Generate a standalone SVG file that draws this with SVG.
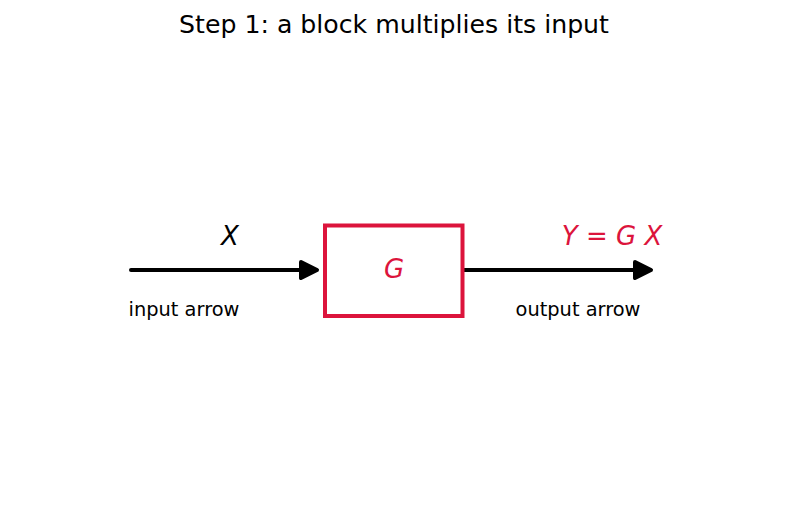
<svg xmlns="http://www.w3.org/2000/svg" width="787" height="511" viewBox="0 0 787 511">
<style>
.t{font-family:"DejaVu Sans",sans-serif;fill:#000}
.lbl{font-size:19.4px;text-anchor:middle}
.math{font-size:26px;font-style:italic}
.red{fill:#DC143C}
.ln{stroke:#000;stroke-width:4;stroke-linecap:round;fill:none}
.hd{stroke:#000;stroke-width:4;stroke-linejoin:round;fill:#000}
</style>
<rect width="787" height="511" fill="#fff"/>
<text class="t" x="394" y="33" font-size="25.2" text-anchor="middle">Step 1: a block multiplies its input</text>
<g id="connectors">
<g id="input-arrow">
<line class="ln" x1="131" y1="270" x2="303" y2="270"/>
<polygon class="hd" points="301,262 317,270 301,278"/>
</g>
<g id="output-arrow">
<line class="ln" x1="464" y1="270" x2="637" y2="270"/>
<polygon class="hd" points="635,262 651,270 635,278"/>
</g>
</g>
<g id="block">
<rect x="325" y="225.5" width="137.5" height="90.5" fill="#fff" stroke="#DC143C" stroke-width="4"/>
<text class="t math red" x="394" y="278" text-anchor="middle">G</text>
</g>
<g id="labels">
<text class="t math" x="230" y="245" text-anchor="middle">X</text>
<text class="t red" x="612" y="245" font-size="26" text-anchor="middle"><tspan font-style="italic">Y</tspan> = <tspan font-style="italic">G</tspan> <tspan font-style="italic">X</tspan></text>
<text class="t lbl" x="184" y="316">input arrow</text>
<text class="t lbl" x="578" y="316">output arrow</text>
</g>
</svg>
